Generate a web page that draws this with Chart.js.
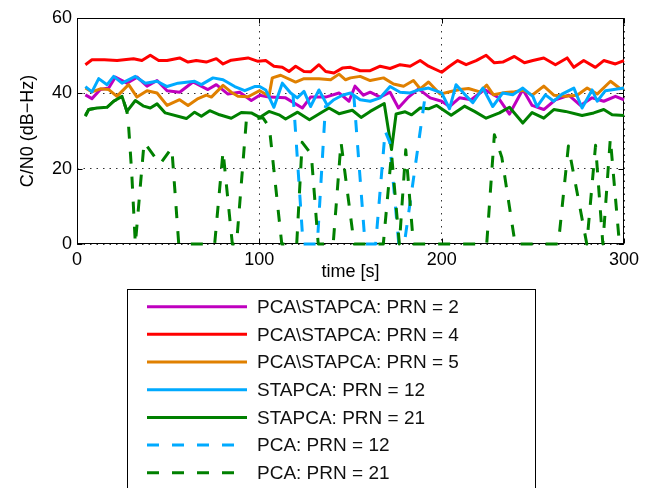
<!DOCTYPE html>
<html>
<head>
<meta charset="utf-8">
<script src="https://cdn.jsdelivr.net/npm/chart.js@4.4.0/dist/chart.umd.min.js"></script>
<style>
  html, body { margin: 0; padding: 0; background: #fff; }
</style>
</head>
<body>
<canvas id="cn0" width="654" height="488"></canvas>
<script>
// ============================================================
// Data
// ============================================================
const xTicks = [0, 100, 200, 300];
const yTicks = [0, 20, 40, 60];

const legendLabels = [
  "PCA\\STAPCA: PRN = 2",
  "PCA\\STAPCA: PRN = 4",
  "PCA\\STAPCA: PRN = 5",
  "STAPCA: PRN = 12",
  "STAPCA: PRN = 21",
  "PCA: PRN = 12",
  "PCA: PRN = 21",
];

// PCA\STAPCA PRN 2
const tPrn2 = [4.6, 8.2, 12.8, 17.4, 21, 27.4, 33, 38.4, 43.9, 49.4, 56.3, 63.6, 71.8, 76.4, 82.8, 89.2, 95.6, 100.2, 105.3, 114.4,
  123.6, 128.1, 136.4, 143.7, 149.2, 152.5, 157.1, 160.8, 166.3, 171.7, 176.3, 181.8, 187.3, 193.7, 200, 204.3, 209.8, 216.2, 223.5, 230.8,
  237.2, 244.5, 249.6, 256, 262.4, 269.7, 276.1, 282.5, 288.9, 295.3, 300];
const cnPrn2 = [39.6, 38.6, 41, 41.4, 44.3, 42.7, 44.3, 41.9, 43.4, 40.7, 40.3, 43, 41, 42.3, 39.8, 40.3, 38.1, 39.5, 39, 38.8,
  36.1, 39, 39, 40.1, 37.9, 41.9, 39.5, 40.3, 39, 40.3, 36.1, 39, 41.2, 38.8, 37.9, 36.5, 38.8, 38.3, 41, 39,
  34.5, 41, 36.8, 35.7, 38.3, 39.5, 36.8, 38.8, 37.9, 39.2, 38.3];

// PCA\STAPCA PRN 4
const tPrn4 = [4.6, 8.2, 15, 22, 27, 31, 35.6, 40.2, 44.8, 49.4, 56.3, 60.9, 65.4, 70.9, 76.4, 80.1, 84.6, 93.8, 99.3, 103.5,
  108, 112.6, 116.3, 119.9, 124.5, 128.1, 132.7, 136.4, 140.9, 145.5, 150, 155.3, 160.8, 166.3, 171.7, 177.2, 182.7, 188.2, 192.8, 200,
  204.3, 208.8, 213.4, 218.9, 224.4, 228.9, 233.5, 239.9, 245.4, 250, 256, 262.4, 268.8, 272.5, 277.9, 284.3, 288.9, 295.3, 300];
const cnPrn4 = [47.6, 48.9, 48.9, 48.7, 49.0, 49.2, 48.7, 50.1, 48.7, 48.7, 49.4, 48.3, 48.7, 48.3, 49.2, 47.8, 48.8, 49.4, 48.5, 48.7,
  47.2, 46.9, 45.8, 47.2, 45.8, 45.7, 47.6, 45.8, 45.4, 46.7, 46.9, 46.0, 46.0, 47.2, 46.6, 47.6, 47.2, 48.7, 47.2, 45.6,
  47.2, 48.7, 47.6, 48.7, 50.1, 48.1, 48.3, 49.8, 48.1, 48.7, 49.4, 47.6, 49.4, 46.9, 48.7, 46.9, 48.7, 47.8, 48.7];

// PCA\STAPCA PRN 5
const tPrn5 = [4.6, 8.2, 12.8, 17.4, 21.9, 28.3, 32.9, 38.4, 43.9, 49.4, 56.3, 60.9, 66.4, 70.9, 73.7, 80.1, 84.6, 88.3, 93.8, 100.2,
  105.3, 107.1, 111.7, 119.9, 124.5, 132.7, 139.1, 143.7, 147.3, 150, 155.3, 160.8, 168.1, 173.6, 179.1, 184.5, 188.2, 192.8, 199.1, 205,
  210, 214.7, 221, 224.7, 228.4, 235, 240, 245, 249.6, 256, 261.5, 267.9, 274.3, 279.8, 285.3, 292.6, 298, 300];
const cnPrn5 = [41.4, 40.4, 41.2, 41, 39.2, 42.3, 39, 40.7, 40.1, 36.8, 38.3, 36.8, 38.6, 39.5, 39, 42.1, 40.3, 39.2, 39.1, 40.7,
  39.3, 44.1, 44.8, 43, 43.9, 43.9, 43.6, 45.1, 43.6, 44.1, 44.5, 43.4, 44.1, 42.5, 41.9, 43.4, 41.2, 43, 39.8, 40.5,
  41, 41.3, 40.4, 42.2, 39.6, 40.2, 40.4, 40.8, 39.5, 41.9, 39.5, 39.2, 39.5, 41.4, 39.8, 43.2, 41.2, 41.5];

// STAPCA PRN 12
const tSta12 = [4.6, 8.2, 11.9, 16.5, 20.1, 24.7, 32, 37.5, 43.9, 49.4, 55.4, 64.5, 68.2, 74.6, 80.1, 86.5, 92, 97.4, 100.2, 103.5,
  108, 112.6, 117.2, 120.8, 124.5, 128.1, 132.7, 137.3, 140.9, 145.5, 150, 155.3, 160.8, 166.3, 171.7, 177.2, 182.7, 187.3, 192.8, 200,
  204.3, 207.9, 212.5, 217.1, 222.6, 228, 233.5, 239, 244.5, 250, 252.3, 256.9, 261.5, 266, 272.5, 277, 282.5, 285.3, 289.8, 300];
const cnSta12 = [41.8, 40.4, 43.9, 42.3, 44.5, 42.7, 44.5, 42.7, 43.2, 41.8, 42.7, 43.2, 42.3, 44.1, 43.6, 41.8, 40.7, 41.8, 41.8, 40.9,
  36.3, 42.7, 40.1, 38.8, 40.5, 36.5, 40.9, 36.8, 38.3, 39.5, 40.1, 38.3, 37.9, 38.8, 41.8, 40.3, 40.1, 40.9, 41.4, 40.1,
  35.9, 42.3, 39.8, 37.5, 41.4, 36.5, 40.1, 39.6, 41.4, 39.2, 36.5, 39.6, 37.9, 39.8, 41.4, 36.1, 40.9, 37.9, 40.7, 41.4];

// STAPCA PRN 21
const tSta21 = [4.6, 6.4, 11, 16.5, 20.1, 24.7, 27.4, 32, 36.6, 40.2, 43.9, 48.4, 60, 64.5, 68.2, 72.8, 78.2, 84.6, 90.1, 95.6,
  100.2, 105.3, 110.8, 114.4, 121, 127.5, 133.6, 138.2, 143.7, 151, 155.8, 160.8, 168.5, 172.5, 175, 180, 183.5, 188.2, 192.8, 197.3,
  205.2, 212.5, 218, 224.4, 231.7, 237.2, 244.5, 249.6, 256, 261.5, 267.9, 277, 283.4, 288.9, 293.5, 300];
const cnSta21 = [33.9, 35.7, 36.1, 36.3, 37.9, 39.2, 35.2, 38.1, 36.6, 36.1, 37.2, 34.8, 33.3, 35, 33.9, 35.4, 34.3, 33.4, 34.9, 34.8,
  33.6, 35.2, 34.3, 33.2, 35, 33, 34.8, 36.1, 34.6, 35.5, 33.6, 35.2, 37.3, 25.1, 34.5, 35.1, 34.3, 36.1, 35.9, 36.8,
  34.2, 36.6, 35.2, 33.4, 34.8, 36.3, 32.1, 34.9, 33.4, 35.7, 35.2, 34.1, 34.8, 35.7, 34.3, 34.1];

// PCA PRN 12 (only where it leaves the STAPCA trace; null = break)
const tPca12 = [118.5, 124, 131.8, 136.3, 144, 151.8, 158, 163.8, 169, 171.5, 176.5, 179.5, 191.5];
const cnPca12 = [39.6, 0, 0, 36.8, null, 39.5, 0, 0, 30, 27, 0, 0, 41.2];

// PCA PRN 21
const tPca21 = [4.6, 6.4, 11, 16.5, 20.1, 24.7, 27.4, 28.2, 30, 32, 36.8, 45.5, 52, 55.8, 75.5, 80.1, 85.2, 87.5, 92.9, 102,
  105.5, 112.3, 120.5, 123.5, 128.5, 132.3, 140.5, 144.8, 152, 168, 172.5, 176.8, 180.3, 184.5, 224.7, 228.9, 233, 240.3, 264, 269.5,
  279.6, 284.4, 288.4, 292.5, 297.5, 300];
const cnPca21 = [34.2, 35.7, 36.1, 36.3, 37.9, 39.2, 35.2, 32, 19, 0, 27, 21.2, 25.5, 0, 0, 24.6, 0, 0, 33, 33.5,
  31, 0, 0, 27, 23.8, 0, 0, 27, 0, 0, 24, 0, 25, 0, 0, 29, 23, 0, 0, 26,
  0, 26.2, 0, 28, 0, 0];

// ============================================================
// Styles
// ============================================================
const FONT = '"Liberation Sans", Arial, Helvetica, sans-serif';
const COLOR = {
  magenta: "#BF00BF",
  red: "#FF0000",
  orange: "#E08000",
  cyan: "#00AAFF",
  green: "#008000",
};
const DASH = [12, 13];
const LINE_W = 3;
const TICK_LEN = 5;

// ============================================================
// Helpers
// ============================================================
const toPoints = (ts, vs) => ts.map((t, i) => ({ x: t, y: vs[i] }));

const series = [
  { label: legendLabels[0], pts: toPoints(tPrn2, cnPrn2), color: COLOR.magenta, dash: [] },
  { label: legendLabels[1], pts: toPoints(tPrn4, cnPrn4), color: COLOR.red, dash: [] },
  { label: legendLabels[2], pts: toPoints(tPrn5, cnPrn5), color: COLOR.orange, dash: [] },
  { label: legendLabels[3], pts: toPoints(tSta12, cnSta12), color: COLOR.cyan, dash: [] },
  { label: legendLabels[4], pts: toPoints(tSta21, cnSta21), color: COLOR.green, dash: [] },
  { label: legendLabels[5], pts: toPoints(tPca12, cnPca12), color: COLOR.cyan, dash: DASH },
  { label: legendLabels[6], pts: toPoints(tPca21, cnPca21), color: COLOR.green, dash: DASH },
];

// ============================================================
// Frame (box + inward ticks) and legend, MATLAB style
// ============================================================
const matlabFrame = {
  id: "matlabFrame",
  beforeDatasetsDraw(chart) {
    const { ctx, chartArea: a, scales: { x, y } } = chart;
    const L = Math.round(a.left) + 0.5, R = Math.round(a.right) - 0.5;
    const T = Math.round(a.top) + 0.5, B = Math.round(a.bottom) - 0.5;
    ctx.save();
    ctx.strokeStyle = "#000";
    ctx.lineWidth = 1;
    ctx.strokeRect(L, T, R - L, B - T);
    ctx.beginPath();
    for (const v of xTicks) {
      const px = Math.round(x.getPixelForValue(v)) + 0.5;
      ctx.moveTo(px, B); ctx.lineTo(px, B - TICK_LEN);
      ctx.moveTo(px, T); ctx.lineTo(px, T + TICK_LEN);
    }
    for (const v of yTicks) {
      const py = Math.round(y.getPixelForValue(v)) + 0.5;
      ctx.moveTo(L, py); ctx.lineTo(L + TICK_LEN, py);
      ctx.moveTo(R, py); ctx.lineTo(R - TICK_LEN, py);
    }
    ctx.stroke();
    ctx.restore();
  },
  afterDraw(chart) {
    const { ctx } = chart;
    const box = { left: 127.5, top: 289.5, right: 535.5, bottom: 520 };
    const rowY0 = 306.7, rowStep = 27.67;
    ctx.save();
    ctx.fillStyle = "#fff";
    ctx.fillRect(box.left, box.top, box.right - box.left, box.bottom - box.top);
    ctx.strokeStyle = "#000";
    ctx.lineWidth = 1;
    ctx.strokeRect(box.left, box.top, box.right - box.left, box.bottom - box.top);

    ctx.font = `19px ${FONT}`;
    ctx.textBaseline = "middle";
    ctx.textAlign = "left";
    chart.data.datasets.forEach((ds, i) => {
      const yy = rowY0 + i * rowStep;
      ctx.beginPath();
      ctx.strokeStyle = ds.borderColor;
      ctx.lineWidth = LINE_W;
      ctx.setLineDash(ds.borderDash);
      ctx.moveTo(147, yy);
      ctx.lineTo(247, yy);
      ctx.stroke();
      ctx.setLineDash([]);
      ctx.fillStyle = "#111";
      ctx.fillText(ds.label, 257, yy + 1);
    });
    ctx.restore();
  },
};

// ============================================================
// Chart
// ============================================================
new Chart(document.getElementById("cn0"), {
  type: "line",
  data: {
    datasets: series.map((s, i) => ({
      label: s.label,
      data: s.pts,
      borderColor: s.color,
      borderWidth: LINE_W,
      borderDash: s.dash,
      borderJoinStyle: "round",
      borderCapStyle: "butt",
      pointRadius: 0,
      tension: 0,
      spanGaps: false,
      clip: 6,
      order: series.length - i,
    })),
  },
  options: {
    responsive: false,
    animation: false,
    devicePixelRatio: 1,
    layout: { padding: { left: 0, top: 18, right: 30, bottom: 204 } },
    plugins: { legend: { display: false }, tooltip: { enabled: false } },
    scales: {
      x: {
        type: "linear",
        min: 0, max: 300,
        afterBuildTicks: (s) => { s.ticks = xTicks.map((v) => ({ value: v })); },
        afterFit: (s) => { s.height = 40; },
        ticks: { color: "#000", padding: 5, maxRotation: 0, font: { family: FONT, size: 18 } },
        grid: { color: "rgba(0,0,0,0.8)", lineWidth: 1, drawTicks: false },
        border: { display: false, dash: [1.5, 5] },
        title: { display: true, text: "time [s]", color: "#000", padding: { top: 0, bottom: 1 }, font: { family: FONT, size: 18 } },
      },
      y: {
        type: "linear",
        min: 0, max: 60,
        afterBuildTicks: (s) => { s.ticks = yTicks.map((v) => ({ value: v })); },
        afterFit: (s) => { s.width = 77; },
        ticks: { color: "#000", padding: 5, font: { family: FONT, size: 18 } },
        grid: { color: "rgba(0,0,0,0.8)", lineWidth: 1, drawTicks: false },
        border: { display: false, dash: [1.5, 5] },
        title: { display: true, text: "C/N0 (dB\u2212Hz)", color: "#000", padding: { top: 17, bottom: 0 }, font: { family: FONT, size: 18 } },
      },
    },
  },
  plugins: [matlabFrame],
});
</script>
</body>
</html>
